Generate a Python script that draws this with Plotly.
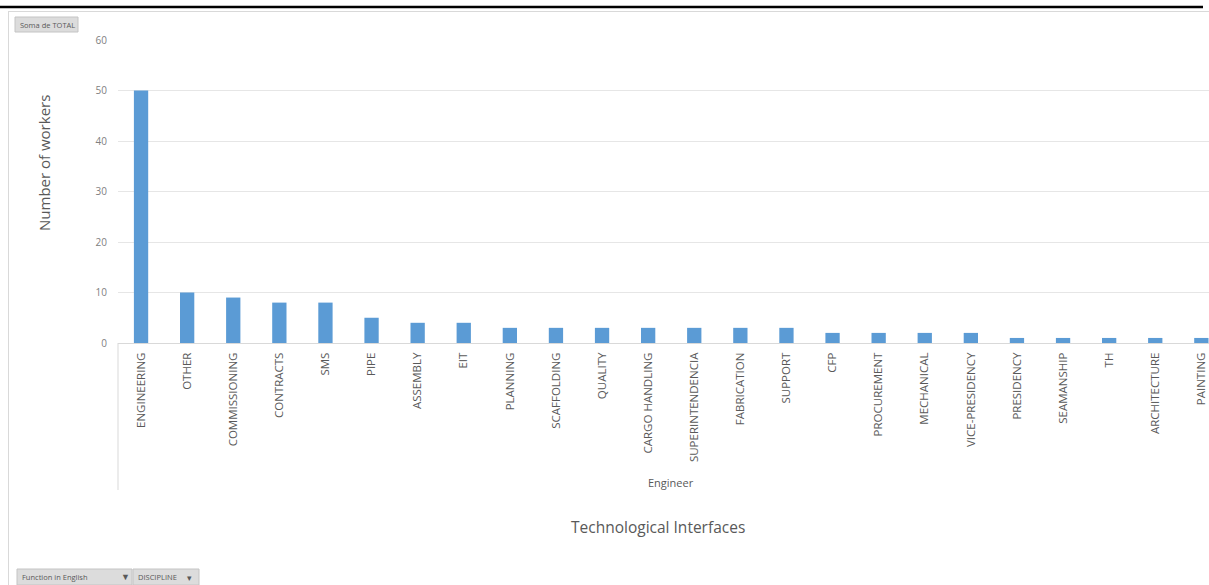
import plotly.graph_objects as go

categories = ["ENGINEERING", "OTHER", "COMMISSIONING", "CONTRACTS", "SMS", "PIPE",
              "ASSEMBLY", "EIT", "PLANNING", "SCAFFOLDING", "QUALITY", "CARGO HANDLING",
              "SUPERINTENDENCIA", "FABRICATION", "SUPPORT", "CFP", "PROCUREMENT",
              "MECHANICAL", "VICE-PRESIDENCY", "PRESIDENCY", "SEAMANSHIP", "TH",
              "ARCHITECTURE", "PAINTING"]
workers = [50, 10, 9, 8, 8, 5, 4, 4, 3, 3, 3, 3, 3, 3, 3, 2, 2, 2, 2, 1, 1, 1, 1, 1]
y_ticks = [0, 10, 20, 30, 40, 50, 60]

W, H = 1209, 585
L, T, B = 118, 40, 343  # plot-area pixel edges
FONT = "Open Sans"


def px(x):
    return (x - L) / (W - L)


def py(y):
    return (B - y) / (B - T)


fig = go.Figure(go.Bar(
    x=categories, y=workers,
    marker=dict(color="#5B9BD5", line=dict(width=0)),
    width=0.31,
))

shapes = [
    # title rule and chart frame
    dict(type="line", xref="paper", yref="paper", x0=px(0), x1=px(1203), y0=py(7), y1=py(7),
         line=dict(color="black", width=2.5)),
    dict(type="line", xref="paper", yref="paper", x0=px(8), x1=px(1209), y0=py(11.5), y1=py(11.5),
         line=dict(color="#d9d9d9", width=1)),
    dict(type="line", xref="paper", yref="paper", x0=px(8.5), x1=px(8.5), y0=py(11.5), y1=py(585),
         line=dict(color="#d9d9d9", width=1)),
    # group separator under the category axis
    dict(type="line", xref="paper", yref="paper", x0=px(118), x1=px(118), y0=py(343), y1=py(490),
         line=dict(color="#d9d9d9", width=1)),
]

# field buttons
buttons = [
    ("Soma de TOTAL", 15, 17, 78, 32),
    ("Function in English", 17, 569, 132, 585),
    ("DISCIPLINE", 133, 569, 199, 585),
]
annotations = []
for label, x0, y0, x1, y1 in buttons:
    shapes.append(dict(type="rect", xref="paper", yref="paper",
                       x0=px(x0), x1=px(x1), y0=py(y0), y1=py(y1),
                       fillcolor="#dcdcdc", line=dict(color="#c4c4c4", width=1)))
    annotations.append(dict(text=label, xref="paper", yref="paper", x=px(x0 + 3), y=py((y0 + y1) / 2),
                            xanchor="left", yanchor="middle", showarrow=False,
                            font=dict(family=FONT, size=7.5, color="#595959")))
annotations.append(dict(text="▼", xref="paper", yref="paper", x=px(125), y=py(576),
                        xanchor="center", yanchor="middle", showarrow=False,
                        font=dict(family=FONT, size=9, color="#595959")))
annotations.append(dict(text="▾", xref="paper", yref="paper", x=px(189), y=py(577),
                        xanchor="center", yanchor="middle", showarrow=False,
                        font=dict(family=FONT, size=9, color="#595959")))

# axis titles
annotations.append(dict(text="Number of workers", xref="paper", yref="paper", x=px(44), y=py(163),
                        xanchor="center", yanchor="middle", textangle=-90, showarrow=False,
                        font=dict(family=FONT, size=15, color="#595959")))
annotations.append(dict(text="Engineer", xref="paper", yref="paper", x=px(671), y=py(482),
                        xanchor="center", yanchor="middle", showarrow=False,
                        font=dict(family=FONT, size=11, color="#595959")))
annotations.append(dict(text="Technological Interfaces", xref="paper", yref="paper", x=px(658), y=py(527),
                        xanchor="center", yanchor="middle", showarrow=False,
                        font=dict(family=FONT, size=15.5, color="#595959")))

last = (W - L) / 46.1 - 0.5
fig.update_layout(
    width=W, height=H,
    margin=dict(l=L, r=0, t=T, b=H - B, pad=0),
    paper_bgcolor="white", plot_bgcolor="white",
    showlegend=False,
    font=dict(family=FONT, color="#595959"),
    bargap=0.69,
    xaxis=dict(range=[-0.5, last], tickangle=-90, showgrid=False,
               showline=True, linecolor="#d9d9d9", linewidth=1,
               ticks="", tickfont=dict(family=FONT, size=11.5, color="#595959"),
               ticklabelstandoff=4, automargin=False),
    yaxis=dict(range=[0, 60], tickvals=y_ticks, showgrid=True, gridcolor="#e6e6e6",
               zeroline=False, showline=False, ticks="",
               tickfont=dict(family=FONT, size=10, color="#808080"),
               ticklabelstandoff=10, automargin=False),
    shapes=shapes,
    annotations=annotations,
)

fig.write_html("out.html")
